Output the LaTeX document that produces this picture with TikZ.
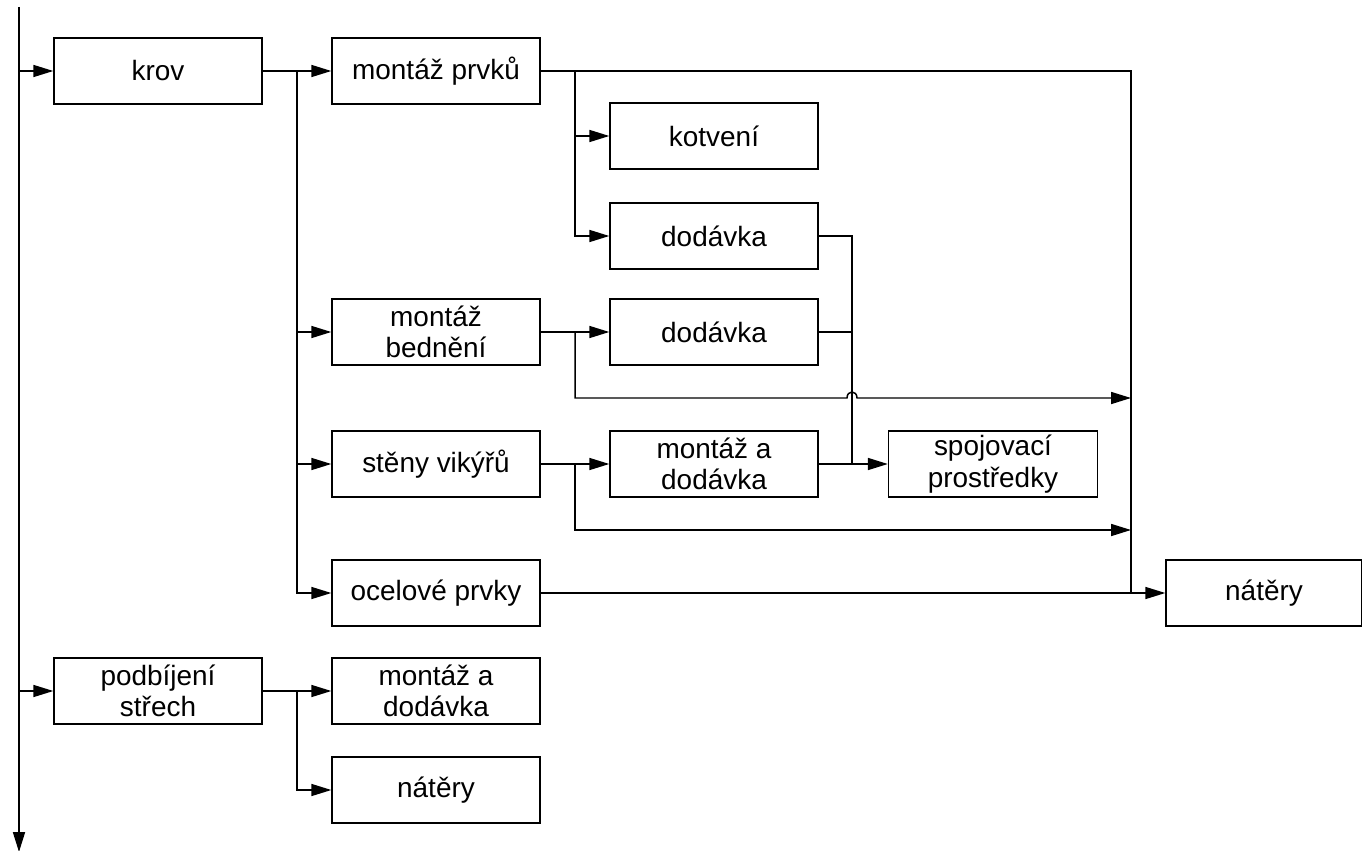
\documentclass[tikz,border=0pt]{standalone}
\usepackage{fontspec}
\setmainfont{Liberation Sans}
\usetikzlibrary{arrows.meta}
\begin{document}
\begin{tikzpicture}[x=0.02cm,y=-0.02cm,
  box/.style={draw, line width=0.8pt, minimum width=4.16cm, minimum height=1.32cm,
    inner sep=0pt, align=center, font=\fontsize{15.9}{17.8}\selectfont},
  conn/.style={line width=0.85pt},
  arr/.style={conn, -{Triangle[length=11.3pt,width=6.8pt]}}]
\useasboundingbox (0,0) rectangle (1362,851);
% boxes
\node[box] (krov) at (158,71) {krov};
\node[box] (mp) at (436,71) {montáž prvků};
\node[box] (kot) at (714,136) {kotvení};
\node[box] (dod1) at (714,236) {dodávka};
\node[box] (mb) at (436,332) {montáž\\bednění};
\node[box] (dod2) at (714,332) {dodávka};
\node[box] (sv) at (436,464) {stěny vikýřů};
\node[box] (mad) at (714,464) {montáž a\\dodávka};
\node[box, minimum width=4.18cm] (spo) at (993,464) {spojovací\\prostředky};
\node[box] (oce) at (436,593) {ocelové prvky};
\node[box, minimum width=3.92cm] (nat) at (1264,593) {nátěry};
\node[box] (pod) at (158,691) {podbíjení\\střech};
\node[box] (mad2) at (436,691) {montáž a\\dodávka};
\node[box] (nat2) at (436,790) {nátěry};
% coordinates
\coordinate (top) at (19,7);
\coordinate (bot) at (19,852);
\coordinate (j1) at (297,71);
\coordinate (j2) at (575,71);
\coordinate (r) at (1131,71);
\coordinate (s) at (852,236);
\coordinate (j3) at (575,332);
\coordinate (h1) at (847,398);
\coordinate (h2) at (857,398);
\coordinate (e1) at (1131,398);
\coordinate (j4) at (575,464);
\coordinate (e2) at (1131,530);
\coordinate (j5) at (297,691);
% main spine
\draw[arr, line width=1pt] (top) -- (bot);
\draw[arr] (krov.west -| top) -- (krov.west);
\draw[arr] (pod.west -| top) -- (pod.west);
% krov
\draw[conn, line width=1.3pt] (krov.east) -- (j1);
\draw[arr] (j1) -- (mp.west);
\draw[arr] (j1) |- (mb.west);
\draw[arr] (j1) |- (sv.west);
\draw[arr] (j1) |- (oce.west);
% montaz prvku
\draw[conn] (mp.east) -- (r) -- (r |- oce.east);
\draw[arr] (j2) |- (kot.west);
\draw[arr] (j2) |- (dod1.west);
% dodavky to spojovaci
\draw[conn] (dod1.east) -- (s) -- (s |- mad.east);
\draw[conn] (dod2.east) -- (dod2.east -| s);
\draw[arr] (mad.east) -- (spo.west);
% montaz bedneni
\draw[arr] (mb.east) -- (dod2.west);
\draw[arr] (j3) |- (h1) .. controls (847,390) and (857,390) .. (h2) -- (e1);
% steny vikyru
\draw[arr] (sv.east) -- (mad.west);
\draw[arr] (j4) |- (e2);
% ocelove prvky
\draw[arr] (oce.east) -- (nat.west);
% podbijeni
\draw[arr] (pod.east) -- (mad2.west);
\draw[arr] (j5) |- (nat2.west);
\end{tikzpicture}
\end{document}
